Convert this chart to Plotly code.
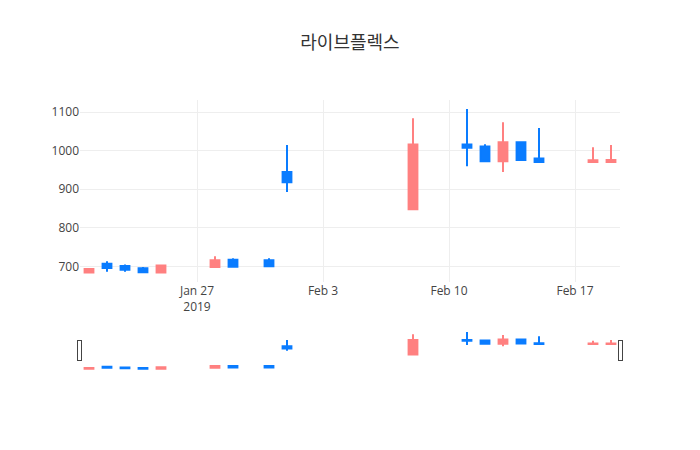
import plotly.graph_objects as go

dates = ["2019-01-21", "2019-01-22", "2019-01-23", "2019-01-24", "2019-01-25",
         "2019-01-28", "2019-01-29", "2019-01-31", "2019-02-01", "2019-02-08",
         "2019-02-11", "2019-02-12", "2019-02-13", "2019-02-14", "2019-02-15",
         "2019-02-18", "2019-02-19"]
opens = [684, 707, 701, 695, 684, 698, 717, 716, 945, 848, 1016, 1011, 973, 1022, 980, 971, 971]
highs = [696, 713, 705, 698, 703, 726, 721, 721, 1015, 1084, 1108, 1017, 1074, 1023, 1059, 1009, 1015]
lows = [683, 686, 686, 684, 683, 698, 698, 699, 893, 848, 960, 972, 945, 975, 970, 971, 970]
closes = [693, 696, 691, 685, 702, 716, 699, 700, 918, 1016, 1008, 973, 1022, 976, 971, 975, 976]

title = "라이브플렉스"
inc_color = "#FF8080"
dec_color = "#0A7CFF"

fig = go.Figure(go.Candlestick(
    x=dates, open=opens, high=highs, low=lows, close=closes,
    increasing=dict(line=dict(color=inc_color), fillcolor=inc_color),
    decreasing=dict(line=dict(color=dec_color), fillcolor=dec_color),
))
fig.update_layout(
    template="none",
    title=dict(text=title, x=342 / 700, xanchor="center", y=1 - 35 / 450, yanchor="middle",
               font=dict(size=18, color="#333")),
    width=700, height=450,
    font=dict(family="Open Sans, Noto Sans CJK KR, sans-serif", color="#444"),
    showlegend=False,
    margin=dict(l=72, r=88, t=92, b=88),
    xaxis=dict(rangeslider=dict(visible=True), gridcolor="#eee"),
    yaxis=dict(gridcolor="#eee", zeroline=False),
)
fig.write_html("out.html")
